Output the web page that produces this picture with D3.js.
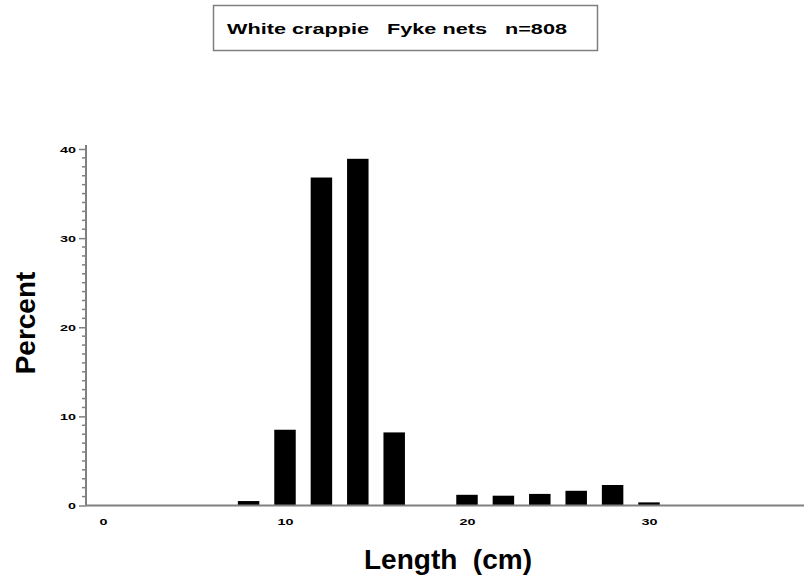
<!DOCTYPE html>
<html>
<head>
<meta charset="utf-8">
<script src="https://cdn.jsdelivr.net/npm/d3@7"></script>
<style>
  body { margin: 0; background: #fff; }
  svg { display: block; font-family: "Liberation Sans", Arial, sans-serif; }
</style>
</head>
<body>
<svg id="chart" width="804" height="583"></svg>
<script>
// length class midpoints (cm) and percent of catch
var lengths = [8, 10, 12, 14, 16, 18, 20, 22, 24, 26, 28, 30];
var percents = [0.5, 8.5, 36.8, 38.9, 8.2, 0, 1.2, 1.1, 1.3, 1.65, 2.3, 0.35];
var xTicks = [0, 10, 20, 30];
var yTicks = [0, 10, 20, 30, 40];
var titleText = 'White crappie   Fyke nets   n=808';

var BAR_HALF = 0.59;
var AXIS_COLOR = '#808080';

var svg = d3.select('#chart');

var x = d3.scaleLinear().domain([0, 30]).range([103, 649]);
var y = d3.scaleLinear().domain([0, 40]).range([505.5, 149]);

// title box
svg.append('rect')
  .attr('x', 213.5).attr('y', 5.5)
  .attr('width', 384).attr('height', 45)
  .attr('fill', 'none')
  .attr('stroke', AXIS_COLOR)
  .attr('stroke-width', 1.5);

svg.append('text')
  .attr('x', 227).attr('y', 34)
  .attr('font-size', 15).attr('font-weight', 'bold')
  .attr('textLength', 340).attr('lengthAdjust', 'spacingAndGlyphs')
  .style('white-space', 'pre')
  .text(titleText);

// bars
var data = lengths.map(function (d, i) { return { len: d, pct: percents[i] }; });

svg.selectAll('.bar')
  .data(data.filter(function (d) { return d.pct > 0; }))
  .enter().append('rect')
  .attr('class', 'bar')
  .attr('x', function (d) { return x(d.len - BAR_HALF); })
  .attr('width', function (d) { return x(d.len + BAR_HALF) - x(d.len - BAR_HALF); })
  .attr('y', function (d) { return y(d.pct); })
  .attr('height', function (d) { return y(0) - y(d.pct); })
  .attr('fill', '#000');

// y axis: major ticks every 10, minor every 1
var yAxis = d3.axisLeft(y)
  .tickValues(yTicks)
  .tickSize(7)
  .tickPadding(3)
  .tickFormat(d3.format('d'));

var gy = svg.append('g')
  .attr('transform', 'translate(86,0)')
  .call(yAxis);

gy.select('.domain').remove();
gy.selectAll('.tick line').attr('stroke', AXIS_COLOR).attr('stroke-width', 1.5);
gy.selectAll('.tick text')
  .attr('font-size', 9.5).attr('font-weight', 'bold')
  .attr('font-family', '"Liberation Sans", Arial, sans-serif')
  .attr('textLength', function (d) { return d === 0 ? 8 : 16; })
  .attr('lengthAdjust', 'spacingAndGlyphs');

gy.selectAll('.minor')
  .data(d3.range(0, 41).filter(function (d) { return d % 10 !== 0; }))
  .enter().append('line')
  .attr('class', 'minor')
  .attr('x1', -4).attr('x2', 0)
  .attr('y1', function (d) { return y(d); })
  .attr('y2', function (d) { return y(d); })
  .attr('stroke', AXIS_COLOR).attr('stroke-width', 1.5);

gy.append('line')
  .attr('x1', 0).attr('x2', 0)
  .attr('y1', 145).attr('y2', y(0))
  .attr('stroke', AXIS_COLOR).attr('stroke-width', 2);

// x axis: labels only, line runs to the right edge
var xAxis = d3.axisBottom(x)
  .tickValues(xTicks)
  .tickSize(0)
  .tickPadding(13)
  .tickFormat(d3.format('d'));

var gx = svg.append('g')
  .attr('transform', 'translate(0,' + y(0) + ')')
  .call(xAxis);

gx.select('.domain').remove();
gx.selectAll('.tick text')
  .attr('font-size', 9.5).attr('font-weight', 'bold')
  .attr('font-family', '"Liberation Sans", Arial, sans-serif')
  .attr('textLength', function (d) { return d === 0 ? 8 : 16; })
  .attr('lengthAdjust', 'spacingAndGlyphs');

gx.append('line')
  .attr('x1', 86).attr('x2', 804)
  .attr('y1', 0).attr('y2', 0)
  .attr('stroke', AXIS_COLOR).attr('stroke-width', 2);

// axis titles
svg.append('text')
  .attr('x', 448).attr('y', 569)
  .attr('text-anchor', 'middle')
  .attr('font-size', 28).attr('font-weight', 'bold')
  .style('white-space', 'pre')
  .text('Length  (cm)');

svg.append('text')
  .attr('transform', 'translate(35,323) rotate(-90)')
  .attr('text-anchor', 'middle')
  .attr('font-size', 28).attr('font-weight', 'bold')
  .text('Percent');
</script>
</body>
</html>
